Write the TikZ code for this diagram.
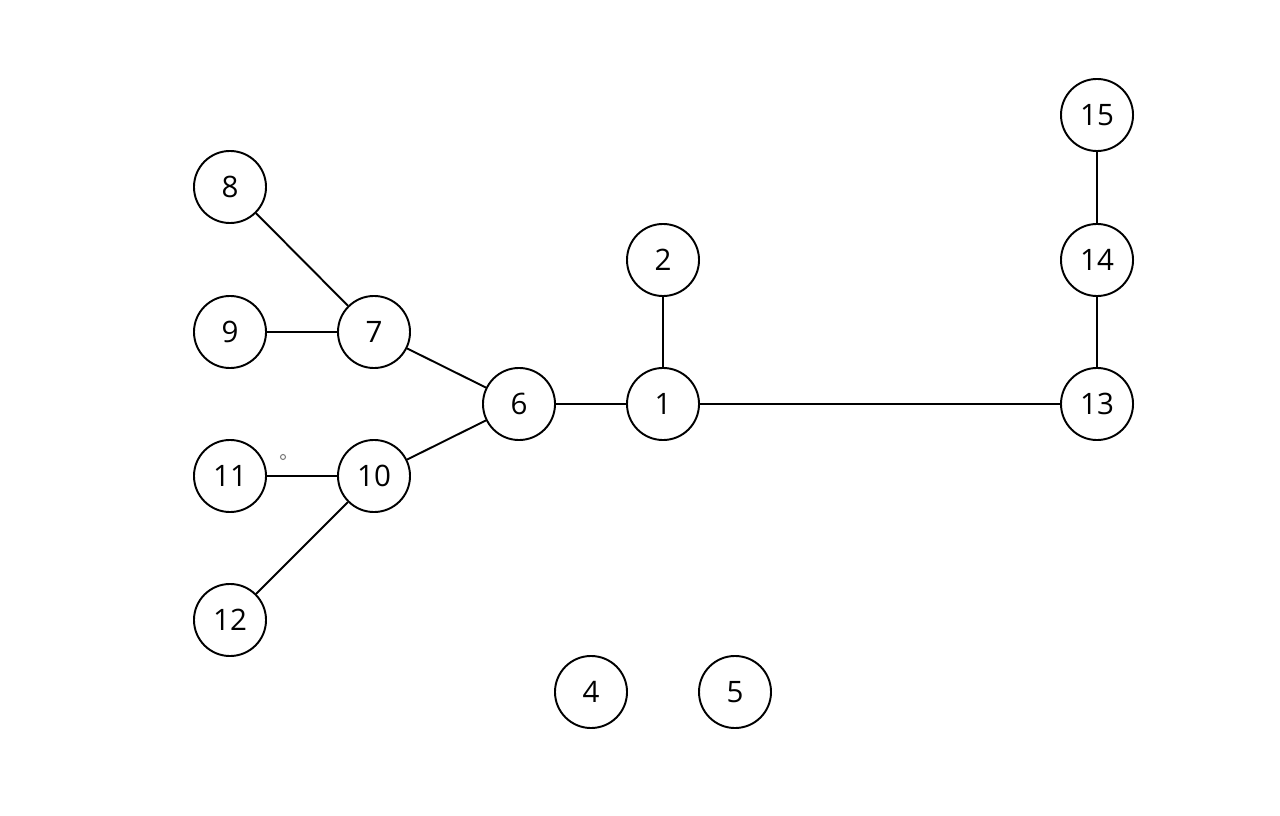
\documentclass[tikz,border=0pt]{standalone}
\usepackage{fontspec}
\setmainfont{Open Sans}

\begin{document}
\begin{tikzpicture}[x=0.01cm, y=-0.01cm, every node/.style={font=\fontsize{8.4pt}{9pt}\selectfont},
  vertex/.style={circle,draw,line width=0.55pt,minimum size=0.72cm,inner sep=0pt},
  edge/.style={line width=0.55pt}]

\useasboundingbox (0,0) rectangle (1280,816);

\node[vertex] (v1)  at (663,404) {1};
\node[vertex] (v2)  at (663,260) {2};
\node[vertex] (v4)  at (591,692) {4};
\node[vertex] (v5)  at (735,692) {5};
\node[vertex] (v6)  at (519,404) {6};
\node[vertex] (v7)  at (374,332) {7};
\node[vertex] (v8)  at (230,187) {8};
\node[vertex] (v9)  at (230,332) {9};
\node[vertex] (v10) at (374,476) {10};
\node[vertex] (v11) at (230,476) {11};
\node[vertex] (v12) at (230,620) {12};
\node[vertex] (v13) at (1097,404) {13};
\node[vertex] (v14) at (1097,260) {14};
\node[vertex] (v15) at (1097,115) {15};

\draw[black!50,line width=0.3pt] (283,457) circle (0.025cm);

\draw[edge] (v1) -- (v2);
\draw[edge] (v1) -- (v6);
\draw[edge] (v1) -- (v13);
\draw[edge] (v6) -- (v7);
\draw[edge] (v6) -- (v10);
\draw[edge] (v7) -- (v8);
\draw[edge] (v7) -- (v9);
\draw[edge] (v10) -- (v11);
\draw[edge] (v10) -- (v12);
\draw[edge] (v13) -- (v14);
\draw[edge] (v14) -- (v15);

\end{tikzpicture}
\end{document}
